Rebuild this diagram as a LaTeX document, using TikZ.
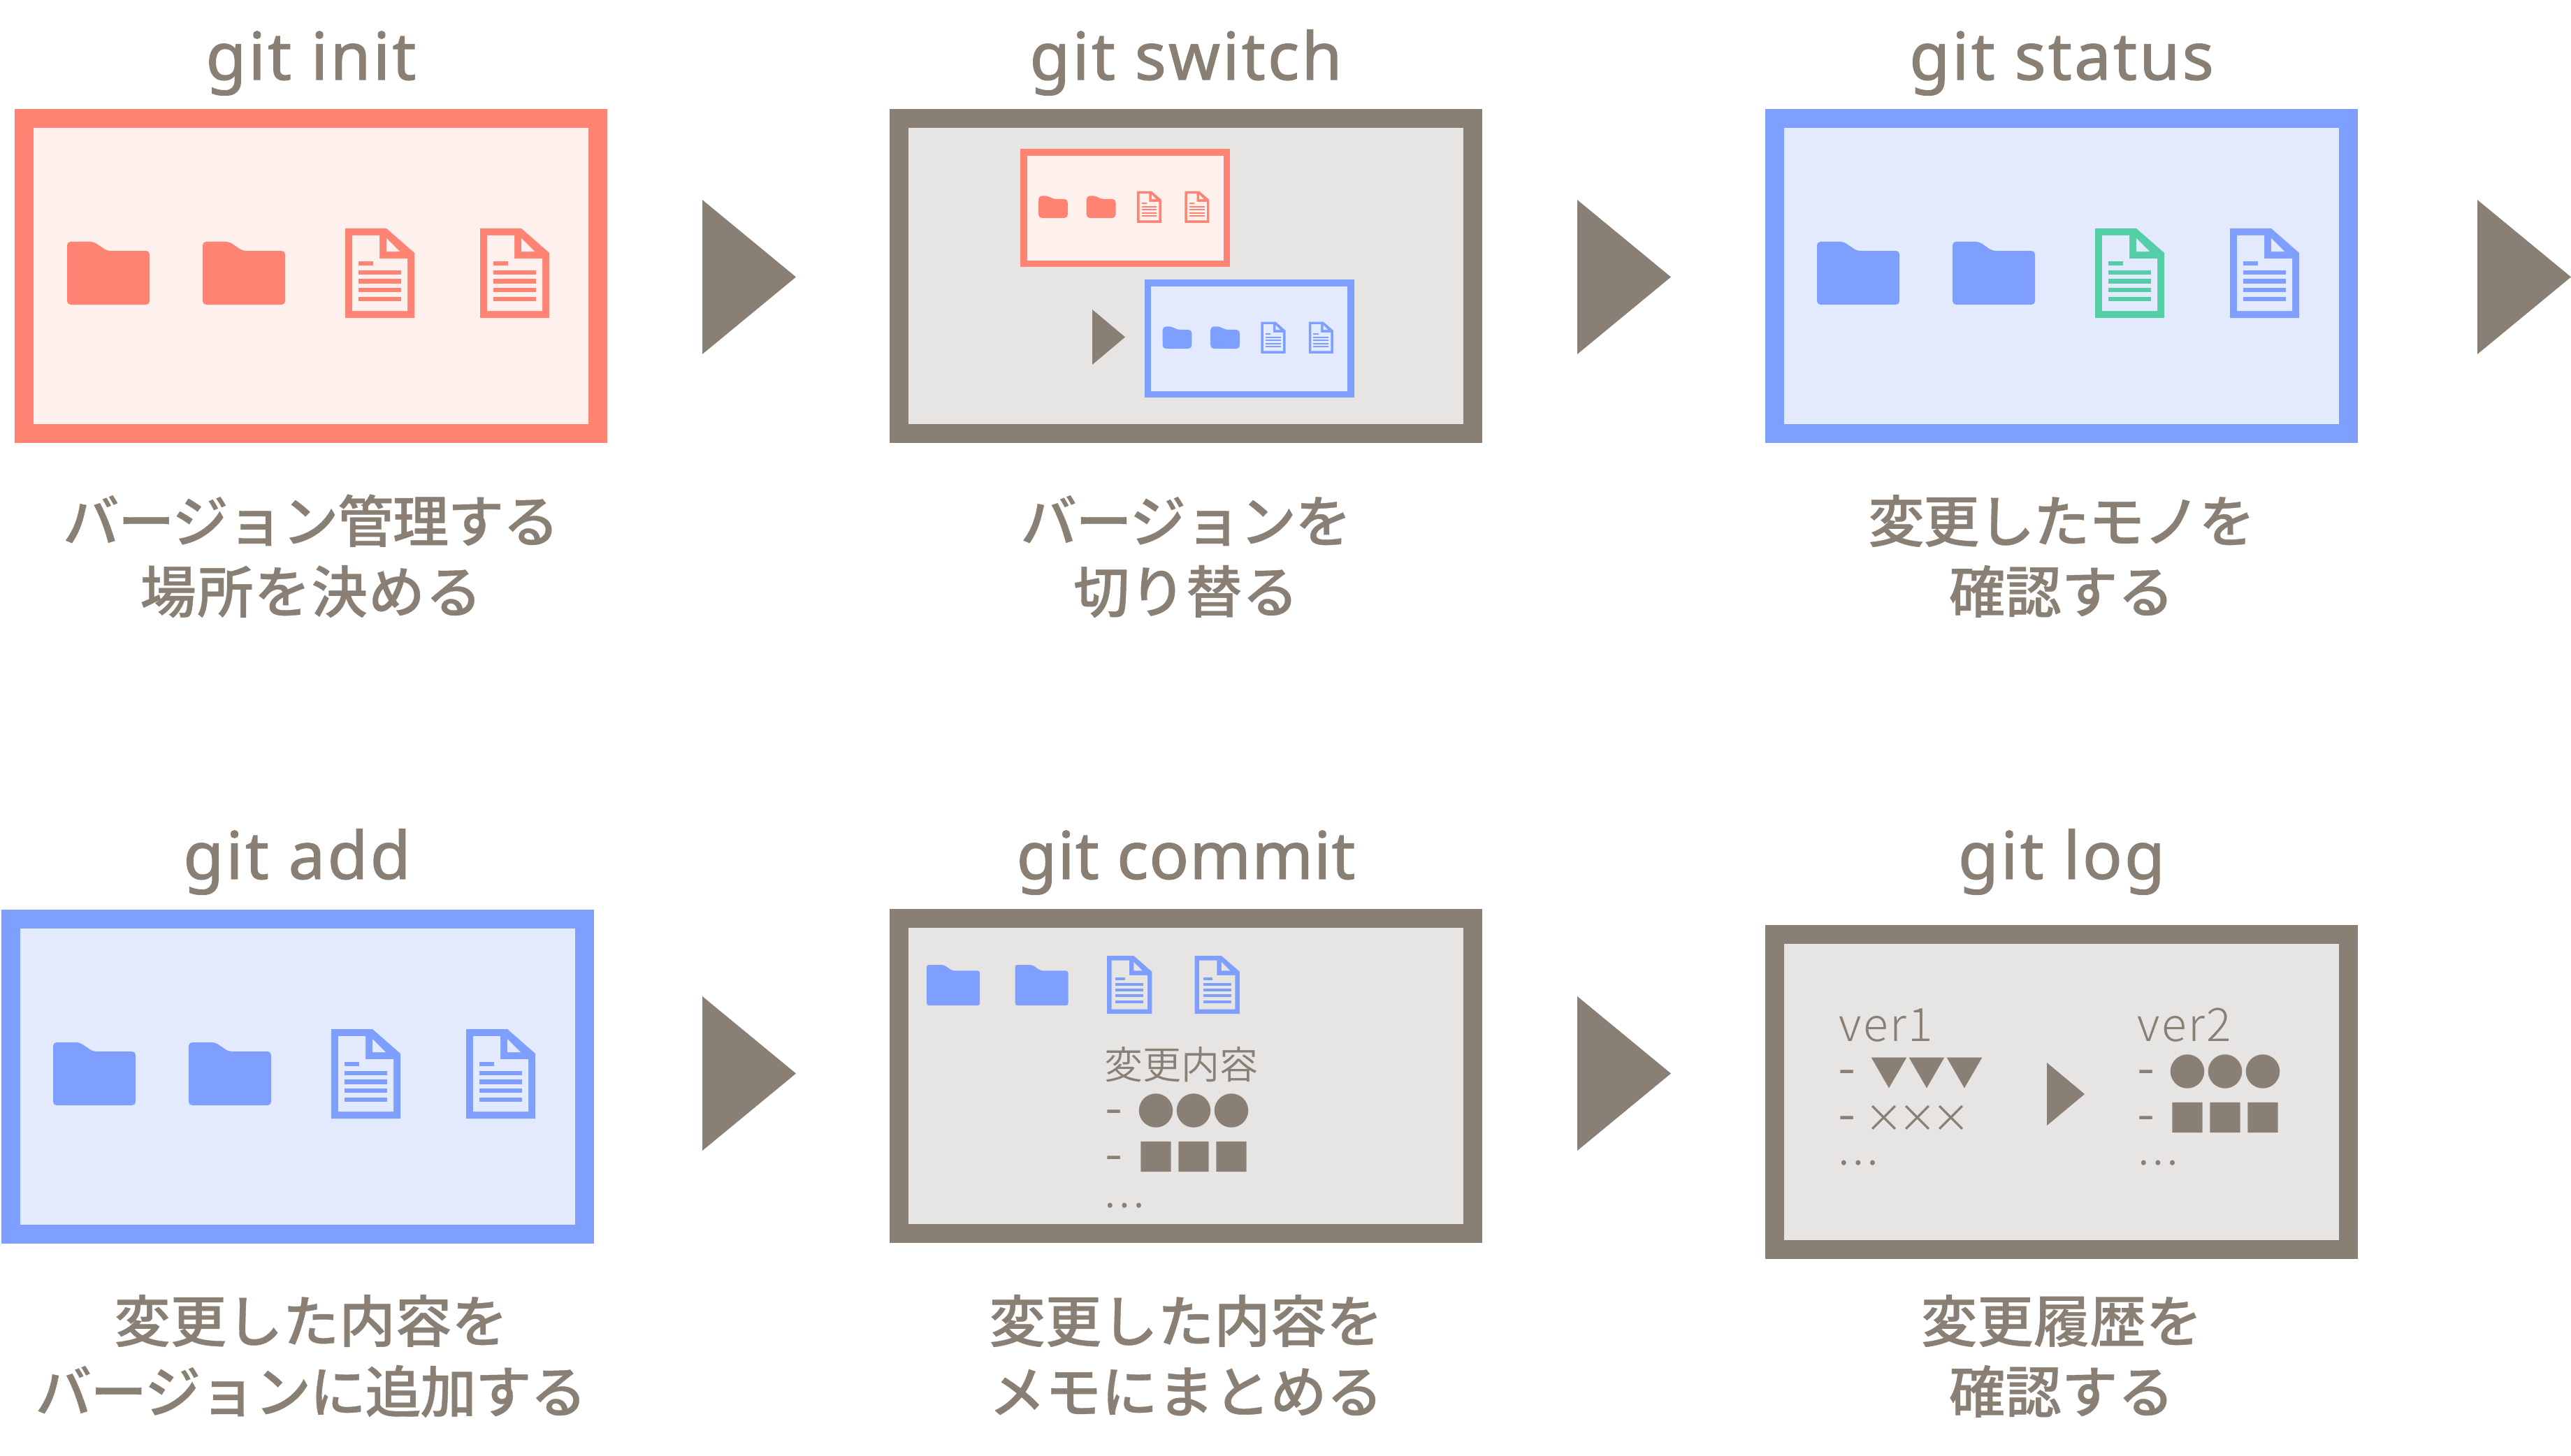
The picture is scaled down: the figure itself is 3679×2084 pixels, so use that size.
\documentclass[tikz,border=0pt]{standalone}
\usepackage{fontspec}
\setmainfont{Noto Sans CJK JP}
\newfontfamily\jplight{Noto Sans CJK JP DemiLight}
\newfontfamily\jpver[LetterSpace=4]{Noto Sans CJK JP Light}
\newfontfamily\jpmed[FakeBold=0.5]{Noto Sans CJK JP Medium}
\newfontfamily\hd[LetterSpace=3.5,FakeBold=1.4]{Noto Sans}
\definecolor{cred}{HTML}{FF8373}
\definecolor{credt}{HTML}{FEF0EC}
\definecolor{cblue}{HTML}{7F9FFF}
\definecolor{cbluet}{HTML}{E4EAFE}
\definecolor{cgray}{HTML}{8A7F74}
\definecolor{cgrayt}{HTML}{E6E5E3}
\definecolor{cgreen}{HTML}{53CEA6}
\tikzset{
  heading/.style={inner sep=0pt,anchor=base,text=cgray,font=\hd\fontsize{94}{100}\selectfont},
  caption/.style={inner sep=0pt,anchor=base,text=cgray,font=\jpmed\fontsize{80.5}{90}\selectfont},
  captiontight/.style={caption,font=\jpmed\fontsize{80.5}{90}\selectfont\addfontfeature{LetterSpace=-2}},
  small/.style={inner sep=0pt,anchor=base,text=cgray,font=\jplight\fontsize{55}{60}\selectfont},
  smallw/.style={inner sep=0pt,anchor=base west,text=cgray,font=\jpver\fontsize{66}{70}\selectfont},
  dashmark/.style={inner sep=0pt,anchor=base west,text=cgray,font=\jplight\fontsize{73}{73}\selectfont},
  glyphs/.style={inner sep=0pt,anchor=base,text=cgray,font=\rmfamily\fontsize{54}{60}\selectfont}
}
% folder: top-left (#1,#2), scale #3, colour #4
\newcommand{\gfolder}[4]{%
  \begin{scope}[shift={(#1,#2)},scale=#3]
    \fill[#4,rounded corners=#3*5pt] (0,0) -- (38,0) -- (57,13) -- (118,13) -- (118,90) -- (0,90) -- cycle;
  \end{scope}}
% document: top-left (#1,#2), scale #3, colour #4, tint #5
\newcommand{\gdoc}[5]{%
  \begin{scope}[shift={(#1,#2)},scale=#3]
    \fill[#4] (0,0) -- (59,0) -- (99,35) -- (99,128) -- (0,128) -- cycle;
    \fill[#5] (10,10) -- (49,10) -- (49,43) -- (89,43) -- (89,118) -- (10,118) -- cycle;
    \fill[#5] (59,14) -- (78,33) -- (59,33) -- cycle;
    \fill[#4] (18.5,47) rectangle (39.5,53.3);
    \foreach \ly in {59.5,72.2,85,97.7} {\fill[#4] (18.5,\ly) rectangle (80,\ly+6.3);}
  \end{scope}}
% screen: top-left (#1,#2), scale #3, colour #4, tint #5
\newcommand{\gframe}[5]{%
  \begin{scope}[shift={(#1,#2)},scale=#3]
    \fill[#4] (0,0) rectangle (848,478);
    \fill[#5] (27,27) rectangle (821,451);
  \end{scope}}
% row of icons of a screen: (#1,#2), scale #3, colour #4, tint #5, first document colour #6
\newcommand{\gicons}[6]{%
  \begin{scope}[shift={(#1,#2)},scale=#3]
    \gfolder{75}{190}{1}{#4}
    \gfolder{269}{190}{1}{#4}
    \gdoc{473}{171}{1}{#6}{#5}
    \gdoc{666}{171}{1}{#4}{#5}
  \end{scope}}
\newcommand{\garrow}[3]{% left x, top y, scale
  \begin{scope}[shift={(#1,#2)},scale=#3]
    \fill[cgray] (0,0) -- (134,110.5) -- (0,221) -- cycle;
  \end{scope}}
\begin{document}
\begin{tikzpicture}[x=1pt,y=-1pt]
\useasboundingbox (0,0) rectangle (3679,2084);

% --- git init
\node[heading] (h1) at (445,114) {git init};
\gframe{21}{156}{1}{cred}{credt}
\gicons{21}{156}{1}{cred}{credt}{cred}
\node[captiontight] (c1a) at (445,776) {バージョン管理する};
\node[caption] (c1b) at (445,877) {\addfontfeature{LetterSpace=1.5}場所を決める};
\garrow{1005}{286}{1}

% --- git switch
\node[heading] (h2) at (1697,114) {git switch};
\gframe{1273}{156}{1}{cgray}{cgrayt}
\gframe{1460}{213}{0.354}{cred}{credt}
\gicons{1459.5}{213}{0.354}{cred}{credt}{cred}
\gframe{1637.5}{400}{0.354}{cblue}{cbluet}
\gicons{1637}{400}{0.354}{cblue}{cbluet}{cblue}
\fill[cgray] (1563,443) -- (1610,482.5) -- (1563,522) -- cycle;
\node[captiontight] (c2a) at (1697,776) {バージョンを};
\node[caption] (c2b) at (1697,877) {切り替る};
\garrow{2257}{286}{1}

% --- git status
\node[heading] (h3) at (2950,114) {git status};
\gframe{2526}{156}{1}{cblue}{cbluet}
\gicons{2525}{156}{1}{cblue}{cbluet}{cgreen}
\node[captiontight] (c3a) at (2950,776) {変更したモノを};
\node[caption] (c3b) at (2950,877) {確認する};
\garrow{3545}{286}{1}

% --- git add
\node[heading] (h4) at (425,1258) {git add};
\gframe{2}{1302}{1}{cblue}{cbluet}
\gicons{1}{1302}{1}{cblue}{cbluet}{cblue}
\node[caption] (c4a) at (445,1921) {変更した内容を};
\node[captiontight] (c4b) at (445,2022) {バージョンに追加する};
\garrow{1005}{1426}{1}

% --- git commit
\node[heading] (h5) at (1697,1258) {\addfontfeature{LetterSpace=1.1}git commit};
\gframe{1273}{1301}{1}{cgray}{cgrayt}
\gfolder{1326}{1381}{0.645}{cblue}
\gfolder{1452.5}{1381}{0.645}{cblue}
\gdoc{1584}{1368}{0.65}{cblue}{cgrayt}
\gdoc{1709.5}{1368}{0.65}{cblue}{cgrayt}
\node[small] (k0) at (1690,1544.5) {変更内容};
\node[dashmark] (k1a) at (1581,1611) {-};
\node[glyphs] (k1b) at (1708,1610.5) {●●●};
\node[dashmark] (k2a) at (1581,1677) {-};
\node[glyphs] (k2b) at (1708,1676.5) {■■■};
\node[small,anchor=base west] (k3) at (1579,1728.5) {…};
\node[caption] (c5a) at (1697,1921) {変更した内容を};
\node[caption] (c5b) at (1697,2022) {メモにまとめる};
\garrow{2257}{1426}{1}

% --- git log
\node[heading] (h6) at (2950,1258) {git log};
\gframe{2526}{1324}{1}{cgray}{cgrayt}
\node[smallw] (v1) at (2631,1490) {ver1};
\node[dashmark] (v1a) at (2630,1554) {-};
\node[glyphs] (v1b) at (2757.5,1554.5) {▼▼▼};
\node[dashmark] (v1c) at (2630,1620) {-};
\node[small] (v1d) at (2744,1620.5) {×\kern-7.4pt×\kern-7.4pt×};
\node[small,anchor=base west] (v1e) at (2629,1667) {…};
\fill[cgray] (2929,1521) -- (2983,1566) -- (2929,1611) -- cycle;
\node[smallw] (v2) at (3058,1490) {ver2};
\node[dashmark] (v2a) at (3058,1554) {-};
\node[glyphs] (v2b) at (3184,1554.5) {●●●};
\node[dashmark] (v2c) at (3058,1620) {-};
\node[glyphs] (v2d) at (3184,1620.5) {■■■};
\node[small,anchor=base west] (v2e) at (3058,1667) {…};
\node[caption] (c6a) at (2950,1921) {変更履歴を};
\node[caption] (c6b) at (2950,2022) {確認する};
\end{tikzpicture}
\end{document}
